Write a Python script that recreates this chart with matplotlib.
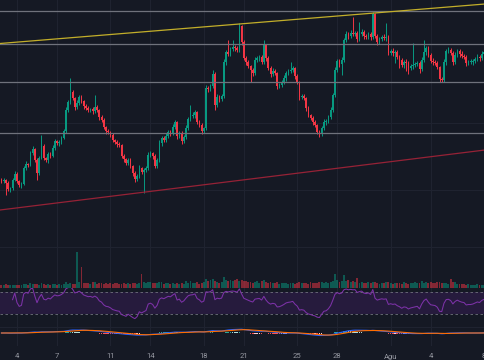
import numpy as np
import pandas as pd
import matplotlib
matplotlib.use("Agg")
import matplotlib.pyplot as plt
import matplotlib.dates as mdates

# 4h candles, open of each candle = previous close
first_open = 70
closes = [
    69, 70, 67, 61, 62, 70, 76, 69, 65, 66,
    82, 86, 85, 97, 101, 90, 77, 92, 104, 92,
    90, 96, 94, 102, 109, 107, 108, 112, 119, 140,
    148, 158, 152, 143, 147, 153, 149, 144, 142, 140,
    141, 139, 143, 140, 133, 130, 123, 119, 118, 115,
    110, 108, 106, 105, 94, 91, 87, 90, 84, 77,
    71, 74, 82, 78, 80, 82, 95, 97, 94, 84,
    90, 107, 112, 110, 114, 118, 117, 123, 128, 114,
    117, 109, 113, 122, 131, 134, 135, 138, 128, 125,
    119, 122, 162, 161, 164, 176, 145, 153, 151, 154,
    188, 198, 196, 201, 203, 202, 200, 224, 208, 192,
    188, 184, 180, 177, 190, 192, 193, 188, 205, 192,
    182, 176, 179, 177, 164, 165, 168, 172, 177, 179,
    180, 182, 174, 168, 153, 154, 152, 142, 135, 132,
    128, 125, 118, 116, 122, 128, 129, 133, 140, 155,
    180, 189, 186, 190, 210, 216, 214, 217, 216, 217,
    211, 216, 218, 214, 213, 216, 213, 236, 214, 208,
    211, 213, 212, 213, 197, 199, 197, 198, 193, 190,
    185, 188, 187, 182, 184, 185, 186, 187, 181, 190,
    198, 202, 195, 189, 188, 187, 183, 171, 170, 188,
    199, 200, 197, 188, 195, 199, 196, 194, 193, 187,
    188, 188, 189, 191, 193, 192, 196, 198,
]
upper_wick = [
    2, 2, 1, 2, 1, 2, 3, 2, 1, 2,
    2, 3, 1, 2, 3, 1, 2, 2, 11, 2,
    1, 2, 2, 3, 2, 1, 2, 2, 2, 3,
    2, 14, 2, 1, 3, 2, 2, 1, 2, 2,
    1, 2, 12, 2, 1, 2, 2, 1, 2, 1,
    2, 1, 2, 2, 1, 2, 1, 2, 2, 1,
    2, 2, 3, 1, 2, 2, 3, 2, 1, 2,
    2, 3, 2, 2, 3, 2, 2, 3, 2, 1,
    2, 2, 2, 3, 2, 11, 3, 2, 1, 2,
    2, 1, 3, 2, 2, 4, 2, 3, 2, 2,
    3, 2, 12, 2, 7, 2, 2, 3, 1, 2,
    2, 2, 1, 2, 3, 2, 2, 2, 5, 1,
    2, 2, 3, 2, 1, 2, 2, 3, 2, 2,
    8, 2, 1, 2, 1, 2, 2, 1, 2, 1,
    2, 2, 1, 2, 2, 3, 2, 2, 3, 2,
    3, 2, 2, 3, 2, 3, 2, 3, 16, 2,
    2, 12, 3, 2, 2, 2, 2, 2, 1, 2,
    2, 2, 3, 14, 2, 2, 3, 2, 2, 2,
    2, 2, 3, 2, 2, 22, 2, 2, 2, 3,
    12, 2, 2, 2, 3, 2, 2, 1, 2, 3,
    2, 3, 2, 2, 3, 2, 2, 3, 2, 2,
    2, 3, 2, 2, 3, 2, 3, 2,
]
lower_wick = [
    2, 2, 12, 2, 3, 2, 1, 2, 2, 3,
    1, 2, 2, 1, 2, 2, 7, 2, 1, 2,
    2, 3, 2, 1, 2, 2, 3, 2, 1, 2,
    2, 2, 2, 3, 2, 2, 2, 3, 2, 2,
    2, 3, 2, 2, 3, 2, 2, 3, 2, 2,
    2, 2, 3, 2, 2, 3, 2, 2, 2, 3,
    3, 2, 2, 2, 21, 2, 2, 2, 3, 2,
    2, 2, 3, 2, 2, 2, 3, 2, 2, 3,
    2, 3, 2, 2, 2, 2, 2, 3, 2, 2,
    3, 2, 2, 3, 2, 2, 5, 2, 3, 2,
    2, 3, 2, 2, 2, 3, 2, 2, 3, 2,
    3, 2, 12, 3, 2, 2, 3, 2, 2, 3,
    2, 3, 2, 2, 3, 2, 2, 2, 3, 2,
    2, 2, 3, 2, 3, 2, 2, 3, 2, 2,
    3, 2, 2, 3, 2, 2, 3, 2, 2, 2,
    2, 2, 3, 11, 2, 2, 3, 2, 2, 2,
    3, 2, 2, 3, 2, 2, 3, 2, 2, 3,
    2, 2, 2, 3, 2, 2, 3, 10, 2, 8,
    2, 3, 8, 6, 2, 3, 2, 2, 4, 2,
    2, 3, 2, 2, 3, 2, 2, 3, 2, 2,
    3, 2, 2, 3, 2, 2, 3, 2, 2, 3,
    2, 2, 3, 2, 2, 3, 2, 2,
]
volumes = [
    2.5, 3, 3.5, 2.5, 3, 2.5, 3, 2.5, 3, 2.5,
    4, 3.5, 3, 4.5, 4, 3.5, 4, 3, 4.5, 3.5,
    3, 3.5, 3, 4, 3.5, 3, 3.5, 3, 4, 5.5,
    4, 4.5, 3.5, 4, 35, 6, 20, 5, 4.5, 5,
    4, 5.5, 6, 4, 5, 4.5, 4, 5, 3.5, 4.5,
    4, 5, 4.5, 3.5, 4, 5, 4, 4.5, 4, 5,
    4.5, 4, 5, 14, 6, 5, 5.5, 6, 5, 4.5,
    5, 6, 5.5, 4, 5, 4.5, 4, 5, 4, 4.5,
    3.5, 5, 4, 7, 5, 6.5, 5, 4.5, 5.5, 4,
    5, 6, 9, 7, 8, 9, 7, 6, 5, 6,
    10.5, 8, 7, 8, 7, 8, 9, 7, 8, 7,
    7, 6, 5.5, 5, 6, 6.5, 5, 7, 7.5, 6,
    5, 6, 4.5, 5, 5.5, 4, 5, 4.5, 5, 4,
    5, 4.5, 4, 5, 6, 5, 4.5, 5, 4, 5.5,
    5, 4.5, 5, 6, 5.5, 5, 6, 5, 5.5, 7,
    14, 8, 6, 7, 13, 7, 8, 6, 7, 6,
    10, 5, 6, 4.5, 5, 5.5, 5, 6, 5.5, 4.5,
    4, 5, 4.5, 5.5, 6, 5, 4, 5, 4.5, 5,
    4, 5.5, 5, 4, 4.5, 5, 6, 4.5, 5, 6.5,
    5, 6, 5, 5.5, 4.5, 5, 5.5, 6, 4.5, 5,
    5, 4, 9, 6, 5.5, 4, 3.5, 4, 3.5, 3,
    3.5, 3, 2.5, 3, 3.5, 3, 2.5, 3,
]

# drawings on the chart
levels = [239, 206, 168, 117]
trend_ends = ["2023-07-02 17:25", "2023-08-08 01:48"]
yellow_trend = [206.5, 246]
red_trend = [40, 100]

tick_dates = ["2023-07-04", "2023-07-07", "2023-07-11", "2023-07-14", "2023-07-18",
              "2023-07-21", "2023-07-25", "2023-07-28", "2023-08-01", "2023-08-04",
              "2023-08-08"]
tick_labels = ["4", "7", "11", "14", "18", "21", "25", "28", "Ağu", "4", "8"]

BG = "#151924"
GRID = "#1f2330"
UP = "#089981"
DOWN = "#f23645"

times = pd.date_range("2023-07-02 20:00", periods=len(closes), freq="4h")
t = mdates.date2num(times.to_pydatetime())
step = 4 / 24
c = np.array(closes, float)
o = np.concatenate([[first_open], c[:-1]])
hi = np.maximum(o, c) + np.array(upper_wick)
lo = np.minimum(o, c) - np.array(lower_wick)
up = c >= o
col = np.where(up, UP, DOWN)

xt = mdates.date2num(pd.to_datetime(tick_dates).to_pydatetime())
xlim = mdates.date2num(pd.to_datetime(trend_ends).to_pydatetime())

fig = plt.figure(figsize=(4.85, 3.6), dpi=100, facecolor=BG)
ax = fig.add_axes([0, 72 / 360, 1, 288 / 360])
ax_rsi = fig.add_axes([0, 40 / 360, 1, 32 / 360])
ax_macd = fig.add_axes([0, 14 / 360, 1, 26 / 360])

for a in (ax, ax_rsi, ax_macd):
    a.set_facecolor(BG)
    for s in a.spines.values():
        s.set_visible(False)
    a.set_xlim(xlim)
    a.set_xticks(xt)
    a.tick_params(length=0, labelleft=False, labelbottom=False)
    a.set_yticks([])
    a.grid(axis="x", color=GRID, lw=0.8)
    a.set_axisbelow(True)

# main pane
ax.set_ylim(-38, 250)
ax.set_yticks([3, 60, 127])
ax.grid(axis="y", color=GRID, lw=0.8)
ax.vlines(t, lo, hi, colors=col, lw=0.7, zorder=2)
body = np.maximum(np.abs(c - o), 0.8)
ax.bar(t, body, bottom=np.minimum(o, c), width=step * 0.72, color=col, lw=0, zorder=2)

for lv in levels:
    ax.axhline(lv, color="#6f727c", lw=0.9, zorder=3)
ax.plot(xlim, yellow_trend, color="#c2ae2a", lw=0.9, zorder=3)
ax.plot(xlim, red_trend, color="#962236", lw=0.9, zorder=3)

# volume overlay
vax = ax.twinx()
vax.set_xlim(xlim)
vax.axis("off")
vax.bar(t, volumes, width=step * 0.85, color=col, alpha=0.5, lw=0)
vax.set_ylim(0, max(volumes) * 288 / 36)

# RSI 14
s = pd.Series(c).diff()
gain = s.clip(lower=0)
loss = -s.clip(upper=0)
ag = gain.ewm(alpha=1 / 14, adjust=True, min_periods=5).mean()
al = loss.ewm(alpha=1 / 14, adjust=True, min_periods=5).mean()
rsi = 100 - 100 / (1 + ag / al)
ax_rsi.set_ylim(19.1, 77.3)
ax_rsi.axhspan(30, 70, color="#261b3d", lw=0)
for lv in (30, 70):
    ax_rsi.axhline(lv, color="#6f727c", lw=0.6, ls=(0, (3, 3)))
ax_rsi.plot(t, rsi, color="#7d32a8", lw=0.75)

# MACD 12 26 9
cs = pd.Series(c)
macd = cs.ewm(span=12, adjust=False).mean() - cs.ewm(span=26, adjust=False).mean()
signal = macd.ewm(span=9, adjust=False).mean()
hist = (macd - signal).values
prev = np.concatenate([[0], hist[:-1]])
hcol = np.where(hist >= 0,
                np.where(hist >= prev, "#26a69a", "#b2dfdb"),
                np.where(hist < prev, "#ff5252", "#ffcdd2"))
lim = 3.4 * np.abs(macd).max()
ax_macd.set_ylim(-lim, lim)
ax_macd.axhline(lim * 6 / 13, color=GRID, lw=0.8)
ax_macd.bar(t, hist, width=step * 0.7, color=hcol, lw=0)
ax_macd.plot(t, macd, color="#2962ff", lw=0.8)
ax_macd.plot(t, signal, color="#ff6d00", lw=0.8)

ax_macd.tick_params(labelbottom=True, pad=5, labelsize=5.5, labelcolor="#9598a1")
ax_macd.set_xticklabels(tick_labels, fontfamily="Roboto")

fig.savefig("out.png", dpi=100, facecolor=BG)
